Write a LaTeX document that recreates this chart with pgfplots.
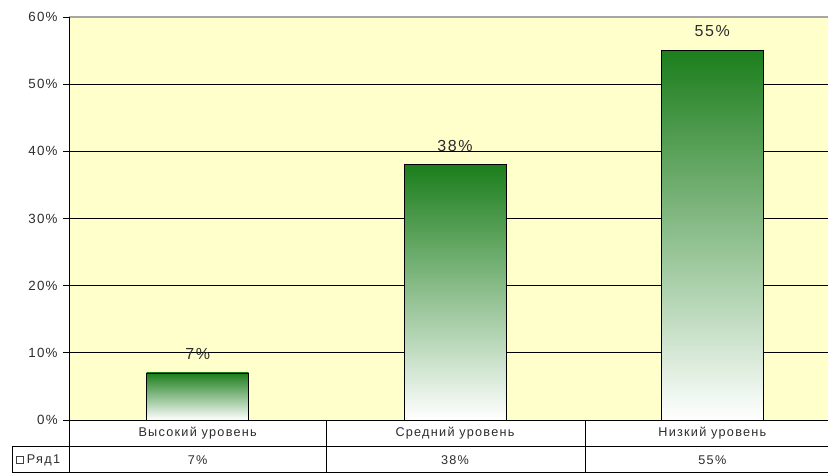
\documentclass[border=0pt]{standalone}
\usepackage{pgfplots}
\pgfplotsset{compat=1.18}
\usepackage{fontspec}
\setmainfont[LetterSpace=10]{Liberation Sans}
\definecolor{bg}{RGB}{255,255,204}
\definecolor{bargreen}{RGB}{28,126,28}
\definecolor{txt}{RGB}{45,45,45}
\begin{document}
\begin{tikzpicture}[x=1pt,y=1pt]
\useasboundingbox (0,0) rectangle (621,354.75);
\clip (0,0) rectangle (621,354.75);
\fill[white] (0,0) rectangle (621,354.75);
\begin{axis}[
  at={(51.75pt,39.75pt)}, anchor=south west,
  scale only axis, width=579pt, height=302.25pt,
  xmin=-0.5, xmax=2.5, ymin=0, ymax=60,
  clip=false,
  axis background/.style={fill=bg},
  axis line style={draw=none},
  xtick=\empty,
  ytick={0,10,20,30,40,50,60},
  tick align=outside,
  major tick length=4.5pt,
  ytick style={black, line width=0.6pt},
  ymajorgrids,
  major grid style={black, line width=0.6pt},
  yticklabel={\pgfmathprintnumber{\tick}\%},
  /pgf/number format/assume math mode=true,
  yticklabel style={font=\fontsize{10}{12}\selectfont, text=txt, xshift=-0.5pt},
  barstyle/.style={ybar, bar width=76.5pt, bar shift=0pt, draw=black, line width=0.6pt,
    shade, top color=bargreen, bottom color=white,
    nodes near coords={\pgfmathprintnumber{\pgfplotspointmeta}\%},
    every node near coord/.append style={font=\fontsize{12}{14}\selectfont, text=txt, yshift=6.5pt, /pgf/number format/assume math mode=true}},
]
\addplot[barstyle] coordinates {(0,7)};
\addplot[barstyle] coordinates {(1,38)};
\addplot[barstyle] coordinates {(2,55)};
\draw[gray!70, line width=0.8pt] (axis cs:-0.5,60) -- (axis cs:2.5,60);
\draw[black, line width=0.6pt] (axis cs:-0.5,0) -- (axis cs:-0.5,60);
\draw[black, line width=0.6pt] (axis cs:-0.5,0) -- (axis cs:2.5,0);
\node[font=\fontsize{9.5}{11}\selectfont, text=txt] at (axis cs:0,0) [yshift=-9.75pt] {Высокий уровень};
\node[font=\fontsize{9.5}{11}\selectfont, text=txt] at (axis cs:1,0) [yshift=-9.75pt] {Средний уровень};
\node[font=\fontsize{9.5}{11}\selectfont, text=txt] at (axis cs:2,0) [yshift=-9.75pt] {Низкий уровень};
\node[font=\fontsize{9.5}{11}\selectfont, text=txt] at (axis cs:0,0) [yshift=-30pt] {7\%};
\node[font=\fontsize{9.5}{11}\selectfont, text=txt] at (axis cs:1,0) [yshift=-30pt] {38\%};
\node[font=\fontsize{9.5}{11}\selectfont, text=txt] at (axis cs:2,0) [yshift=-30pt] {55\%};
\end{axis}
% data table lines
\draw[black, line width=0.6pt] (51.75,0) -- (51.75,39.75);
\draw[black, line width=0.6pt] (244.5,0) -- (244.5,39.75);
\draw[black, line width=0.6pt] (438.75,0) -- (438.75,39.75);
\draw[black, line width=0.6pt] (9,20.25) -- (621,20.25);
\draw[black, line width=0.6pt] (9,0) -- (9,20.25);
\draw[black, line width=0.6pt] (9,0.3) -- (621,0.3);
\draw[black!75, fill=white, line width=0.5pt] (12.2,7) rectangle (17.8,12.6);
\node[anchor=west, font=\fontsize{9.5}{11}\selectfont, text=txt, inner sep=0pt] at (20,9.75) {Ряд1};
\end{tikzpicture}
\end{document}
